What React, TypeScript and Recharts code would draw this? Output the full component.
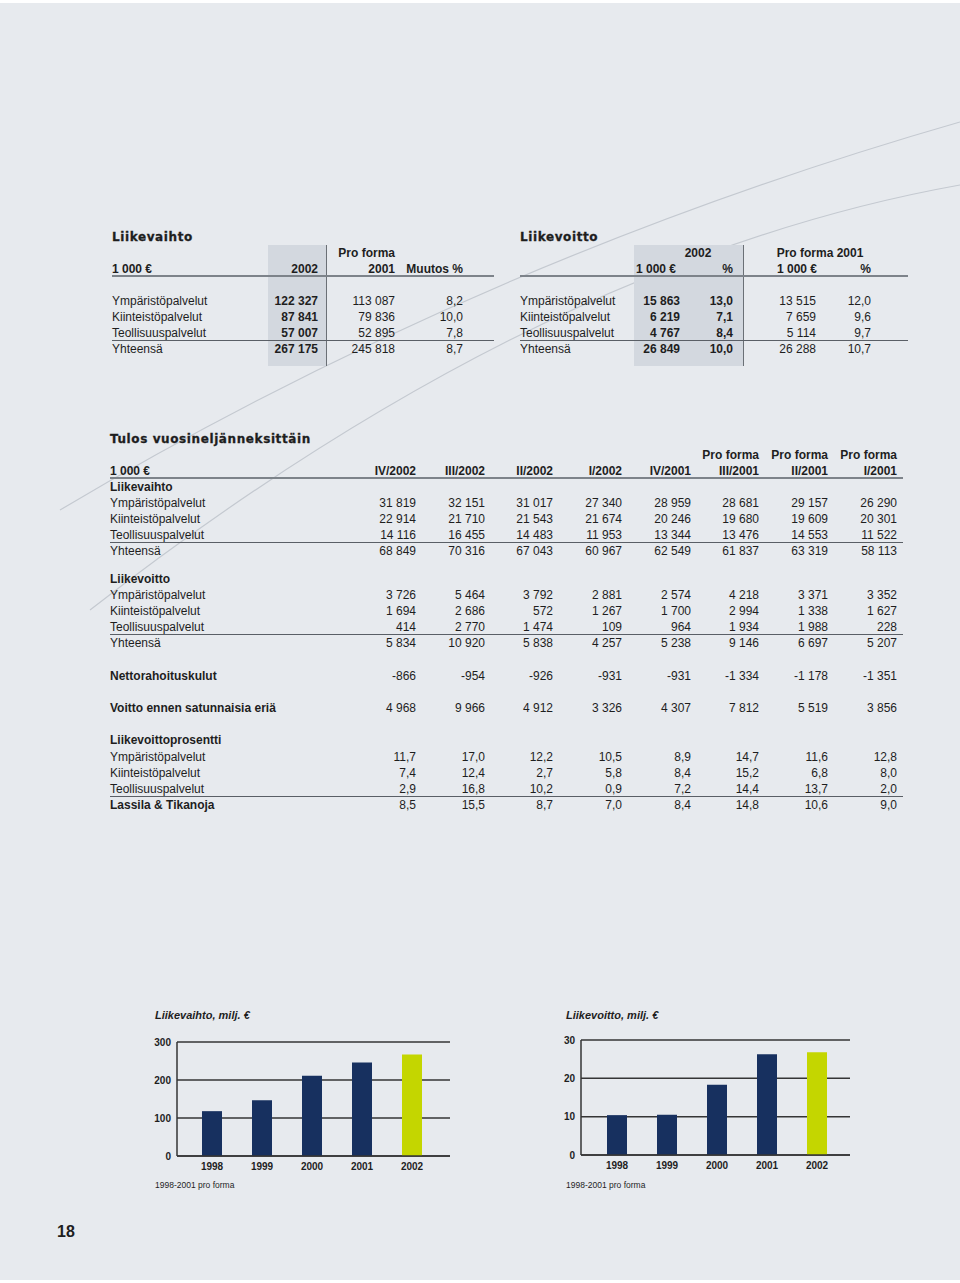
import React from 'react';
import { BarChart, Bar, XAxis, YAxis, CartesianGrid, Cell } from 'recharts';

// ---------- data ----------
const years = ['1998', '1999', '2000', '2001', '2002'];
const revenueMEUR = [118, 146.5, 211, 245.8, 267.2];
const ebitMEUR = [10.4, 10.5, 18.3, 26.3, 26.8];
const revenueTicks = [0, 100, 200, 300];
const ebitTicks = [0, 10, 20, 30];

const segments = ['Ympäristöpalvelut', 'Kiinteistöpalvelut', 'Teollisuuspalvelut', 'Yhteensä'];
const lv2002 = ['122 327', '87 841', '57 007', '267 175'];
const lv2001 = ['113 087', '79 836', '52 895', '245 818'];
const lvChange = ['8,2', '10,0', '7,8', '8,7'];

const lo2002 = ['15 863', '6 219', '4 767', '26 849'];
const lo2002Pct = ['13,0', '7,1', '8,4', '10,0'];
const lo2001 = ['13 515', '7 659', '5 114', '26 288'];
const lo2001Pct = ['12,0', '9,6', '9,7', '10,7'];

const quarters = ['IV/2002', 'III/2002', 'II/2002', 'I/2002', 'IV/2001', 'III/2001', 'II/2001', 'I/2001'];
const quarterProForma = [false, false, false, false, false, true, true, true];
const lvYmp = ['31 819', '32 151', '31 017', '27 340', '28 959', '28 681', '29 157', '26 290'];
const lvKiin = ['22 914', '21 710', '21 543', '21 674', '20 246', '19 680', '19 609', '20 301'];
const lvTeol = ['14 116', '16 455', '14 483', '11 953', '13 344', '13 476', '14 553', '11 522'];
const lvYht = ['68 849', '70 316', '67 043', '60 967', '62 549', '61 837', '63 319', '58 113'];
const loYmp = ['3 726', '5 464', '3 792', '2 881', '2 574', '4 218', '3 371', '3 352'];
const loKiin = ['1 694', '2 686', '572', '1 267', '1 700', '2 994', '1 338', '1 627'];
const loTeol = ['414', '2 770', '1 474', '109', '964', '1 934', '1 988', '228'];
const loYht = ['5 834', '10 920', '5 838', '4 257', '5 238', '9 146', '6 697', '5 207'];
const netFin = ['-866', '-954', '-926', '-931', '-931', '-1 334', '-1 178', '-1 351'];
const pbt = ['4 968', '9 966', '4 912', '3 326', '4 307', '7 812', '5 519', '3 856'];
const pctYmp = ['11,7', '17,0', '12,2', '10,5', '8,9', '14,7', '11,6', '12,8'];
const pctKiin = ['7,4', '12,4', '2,7', '5,8', '8,4', '15,2', '6,8', '8,0'];
const pctTeol = ['2,9', '16,8', '10,2', '0,9', '7,2', '14,4', '13,7', '2,0'];
const pctLT = ['8,5', '15,5', '8,7', '7,0', '8,4', '14,8', '10,6', '9,0'];

// ---------- styling ----------
const PAGE_W = 960;
const PAGE_H = 1283;
const BG = '#e7eaee';
const SHADE = '#d3d8df';
const TEXT = '#1e1e1e';
const NAVY = '#17305f';
const LIME = '#c4d600';
const GRID = '#353535';
const FONT = '"Liberation Sans", Arial, Helvetica, sans-serif';

type TP = { x: number; y: number; children: React.ReactNode; align?: 'left' | 'right' | 'center'; bold?: boolean; size?: number; style?: React.CSSProperties };
function T({ x, y, children, align = 'left', bold = false, size = 12, style }: TP) {
  const pos: React.CSSProperties =
    align === 'right' ? { right: PAGE_W - x } : align === 'center' ? { left: x - 100, width: 200, textAlign: 'center' } : { left: x };
  return (
    <div style={{ position: 'absolute', top: y - 8, height: 16, lineHeight: '16px', fontSize: size, fontWeight: bold ? 700 : 400, whiteSpace: 'nowrap', color: TEXT, ...pos, ...style }}>
      {children}
    </div>
  );
}
function HLine({ x1, x2, y, h = 1, color = '#5a5f66' }: { x1: number; x2: number; y: number; h?: number; color?: string }) {
  return <div style={{ position: 'absolute', left: x1, top: y, width: x2 - x1, height: h, background: color }} />;
}
function Title({ x, y, children }: { x: number; y: number; children: React.ReactNode }) {
  return (
    <div style={{ position: 'absolute', left: x, top: y - 8, lineHeight: '16px', fontSize: 12, fontWeight: 700, fontFamily: '"DejaVu Sans", sans-serif', letterSpacing: 0.6, color: TEXT, whiteSpace: 'nowrap', WebkitTextStroke: '0.3px #1e1e1e' }}>
      {children}
    </div>
  );
}

const revData = years.map((y, i) => ({ year: y, value: revenueMEUR[i] }));
const ebitData = years.map((y, i) => ({ year: y, value: ebitMEUR[i] }));
const tickStyle = { fontSize: 10, fontWeight: 700, fill: TEXT, fontFamily: FONT };

function SmallBar({ data, domain, ticks, margin, width, height, padding }: any) {
  return (
    <BarChart width={width} height={height} data={data} margin={margin}>
      <CartesianGrid vertical={false} stroke={GRID} strokeWidth={1.5} />
      <XAxis dataKey="year" padding={padding} tickLine={false} tickSize={0} tickMargin={7} height={20} interval={0}
        axisLine={{ stroke: GRID, strokeWidth: 1.5 }} tick={tickStyle} />
      <YAxis domain={domain} ticks={ticks} width={30} tickLine={false} tickSize={0} tickMargin={6} interval={0}
        axisLine={{ stroke: GRID, strokeWidth: 1.5 }} tick={tickStyle} />
      <Bar dataKey="value" barSize={20} isAnimationActive={false}>
        {data.map((_: any, i: number) => (
          <Cell key={i} fill={i === data.length - 1 ? LIME : NAVY} />
        ))}
      </Bar>
    </BarChart>
  );
}

const qRight = [416, 485, 553, 622, 691, 759, 828, 897];
const segRowsY = [301, 317, 333, 349];

function QRow({ y, label, vals, bold = false }: { y: number; label?: string; vals?: string[]; bold?: boolean }) {
  return (
    <>
      {label && <T x={110} y={y} bold={bold}>{label}</T>}
      {vals && vals.map((v, i) => <T key={i} x={qRight[i]} y={y} align="right">{v}</T>)}
    </>
  );
}

export default function App() {
  return (
    <div style={{ position: 'absolute', left: 0, top: 0, width: PAGE_W, height: PAGE_H, background: BG, fontFamily: FONT, overflow: 'hidden' }}>
      {/* white page edges */}
      <div style={{ position: 'absolute', left: 0, top: 0, width: PAGE_W, height: 3, background: '#fff' }} />
      <div style={{ position: 'absolute', left: 0, top: 1280, width: PAGE_W, height: 3, background: '#fff' }} />

      {/* decorative arcs */}
      <svg width={PAGE_W} height={PAGE_H} style={{ position: 'absolute', left: 0, top: 0 }}>
        <path d="M 60 510 Q 480 260 960 122" fill="none" stroke="#c4c9d0" strokeWidth={1.2} />
        <path d="M 90 610 Q 540 260 960 185" fill="none" stroke="#c4c9d0" strokeWidth={1.2} />
      </svg>

      {/* ---------- Liikevaihto table ---------- */}
      <div style={{ position: 'absolute', left: 268, top: 245, width: 58, height: 121, background: SHADE }} />
      <div style={{ position: 'absolute', left: 326, top: 245, width: 1, height: 121, background: '#6b7076' }} />
      <Title x={112} y={237}>Liikevaihto</Title>
      <T x={395} y={253} align="right" bold>Pro forma</T>
      <T x={112} y={269} bold>1 000 €</T>
      <T x={318} y={269} align="right" bold>2002</T>
      <T x={395} y={269} align="right" bold>2001</T>
      <T x={463} y={269} align="right" bold>Muutos %</T>
      <HLine x1={112} x2={494} y={275} h={2} color="#7d838a" />
      {segments.map((s, i) => (
        <React.Fragment key={s}>
          <T x={112} y={segRowsY[i]}>{s}</T>
          <T x={318} y={segRowsY[i]} align="right" bold>{lv2002[i]}</T>
          <T x={395} y={segRowsY[i]} align="right">{lv2001[i]}</T>
          <T x={463} y={segRowsY[i]} align="right">{lvChange[i]}</T>
        </React.Fragment>
      ))}
      <HLine x1={112} x2={494} y={340} h={1} />

      {/* ---------- Liikevoitto table ---------- */}
      <div style={{ position: 'absolute', left: 634, top: 245, width: 109, height: 121, background: SHADE }} />
      <div style={{ position: 'absolute', left: 743, top: 245, width: 1, height: 121, background: '#6b7076' }} />
      <Title x={520} y={237}>Liikevoitto</Title>
      <T x={698} y={253} align="center" bold>2002</T>
      <T x={820} y={253} align="center" bold>Pro forma 2001</T>
      <T x={636} y={269} bold>1 000 €</T>
      <T x={733} y={269} align="right" bold>%</T>
      <T x={777} y={269} bold>1 000 €</T>
      <T x={871} y={269} align="right" bold>%</T>
      <HLine x1={520} x2={908} y={275} h={2} color="#7d838a" />
      {segments.map((s, i) => (
        <React.Fragment key={s}>
          <T x={520} y={segRowsY[i]}>{s}</T>
          <T x={680} y={segRowsY[i]} align="right" bold>{lo2002[i]}</T>
          <T x={733} y={segRowsY[i]} align="right" bold>{lo2002Pct[i]}</T>
          <T x={816} y={segRowsY[i]} align="right">{lo2001[i]}</T>
          <T x={871} y={segRowsY[i]} align="right">{lo2001Pct[i]}</T>
        </React.Fragment>
      ))}
      <HLine x1={520} x2={908} y={340} h={1} />

      {/* ---------- Quarterly table ---------- */}
      <Title x={110} y={439}>Tulos vuosineljänneksittäin</Title>
      {quarters.map((q, i) => (
        <React.Fragment key={q}>
          {quarterProForma[i] && <T x={qRight[i]} y={455} align="right" bold>Pro forma</T>}
          <T x={qRight[i]} y={471} align="right" bold>{q}</T>
        </React.Fragment>
      ))}
      <T x={110} y={471} bold>1 000 €</T>
      <HLine x1={110} x2={903} y={477} h={2} color="#7d838a" />

      <QRow y={487} label="Liikevaihto" bold />
      <QRow y={503} label="Ympäristöpalvelut" vals={lvYmp} />
      <QRow y={519} label="Kiinteistöpalvelut" vals={lvKiin} />
      <QRow y={535} label="Teollisuuspalvelut" vals={lvTeol} />
      <HLine x1={110} x2={903} y={542} h={1} />
      <QRow y={551} label="Yhteensä" vals={lvYht} />

      <QRow y={579} label="Liikevoitto" bold />
      <QRow y={595} label="Ympäristöpalvelut" vals={loYmp} />
      <QRow y={611} label="Kiinteistöpalvelut" vals={loKiin} />
      <QRow y={627} label="Teollisuuspalvelut" vals={loTeol} />
      <HLine x1={110} x2={903} y={634} h={1} />
      <QRow y={643} label="Yhteensä" vals={loYht} />

      <QRow y={676} label="Nettorahoituskulut" vals={netFin} bold />
      <QRow y={708} label="Voitto ennen satunnaisia eriä" vals={pbt} bold />

      <QRow y={740} label="Liikevoittoprosentti" bold />
      <QRow y={757} label="Ympäristöpalvelut" vals={pctYmp} />
      <QRow y={773} label="Kiinteistöpalvelut" vals={pctKiin} />
      <QRow y={789} label="Teollisuuspalvelut" vals={pctTeol} />
      <HLine x1={110} x2={903} y={796} h={1} />
      <QRow y={805} label="Lassila & Tikanoja" vals={pctLT} bold />

      {/* ---------- Charts ---------- */}
      <T x={155} y={1015} size={11} bold style={{ fontStyle: 'italic' }}>Liikevaihto, milj. €</T>
      <div style={{ position: 'absolute', left: 130, top: 1030 }}>
        <SmallBar data={revData} domain={[0, 300]} ticks={revenueTicks} width={330} height={150}
          margin={{ top: 12, right: 10, bottom: 4, left: 17 }} padding={{ left: 10, right: 13 }} />
      </div>
      <T x={155} y={1185} size={8.5}>1998-2001 pro forma</T>

      <T x={566} y={1015} size={11} bold style={{ fontStyle: 'italic' }}>Liikevoitto, milj. €</T>
      <div style={{ position: 'absolute', left: 540, top: 1028 }}>
        <SmallBar data={ebitData} domain={[0, 30]} ticks={ebitTicks} width={320} height={152}
          margin={{ top: 12, right: 10, bottom: 5, left: 11 }} padding={{ left: 11, right: 8 }} />
      </div>
      <T x={566} y={1185} size={8.5}>1998-2001 pro forma</T>

      <T x={57} y={1232} size={16} bold>18</T>
    </div>
  );
}
